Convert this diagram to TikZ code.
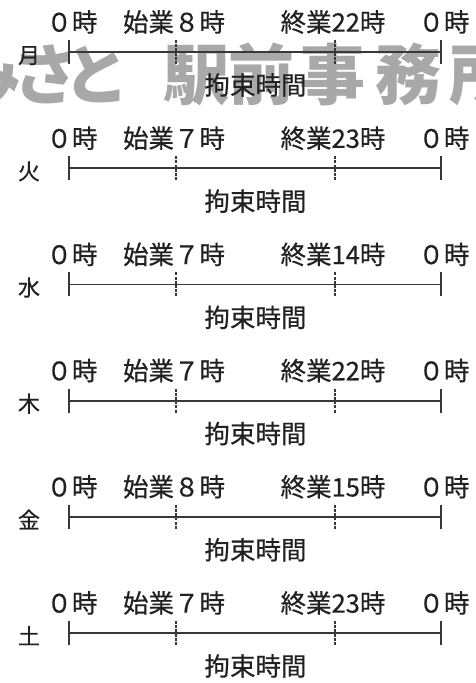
\documentclass[tikz,border=0pt]{standalone}
\usepackage{fontspec}
\setmainfont{Noto Sans CJK JP}
\newfontfamily\lbfont[FakeBold=0.5]{Noto Sans CJK JP}
\newfontfamily\wmfont[RawFeature=+palt]{Noto Sans CJK JP}
\definecolor{ink}{gray}{0.13}
\definecolor{rule}{gray}{0.22}
\definecolor{wmgray}{gray}{0.66}
\begin{document}
\begin{tikzpicture}[x=1pt,y=-1pt,
  lab/.style={inner sep=0pt, text=ink, font=\lbfont\fontsize{25.5}{25.5}\selectfont,
              text height=22.4pt, text depth=3.1pt},
  day/.style={inner sep=0pt, text=ink, font=\lbfont\fontsize{22}{22}\selectfont,
              text height=19.4pt, text depth=2.6pt},
  wm/.style={inner sep=0pt, text=wmgray, font=\wmfont\bfseries\fontsize{66}{66}\selectfont,
             text height=58.1pt, text depth=7.9pt},
  mainline/.style={draw=rule, line width=1.8pt},
  endtick/.style={draw=rule, line width=1.3pt},
  midtick/.style={draw=rule, line width=1.3pt, dash pattern=on 3pt off 1.2pt}]
\useasboundingbox (0,0) rectangle (475,683);
% watermark
\foreach \c/\x [count=\i] in {み/-12, さ/45, と/95, 駅/196, 前/261, 事/332, 務/408, 所/482}
  \node[wm] (w\i) at (\x,74) {\c};
% rows
\foreach \d/\s/\e [count=\i from 0] in {月/８/22, 火/７/23, 水/７/14, 木/７/22, 金/８/15, 土/７/23}{
  \pgfmathsetmacro{\yl}{22+116.2*\i}
  \pgfmathsetmacro{\yL}{\yl+30}
  \pgfmathsetmacro{\yk}{\yl+63}
  \coordinate (A\i) at (69,\yL);
  \coordinate (B\i) at (176,\yL);
  \coordinate (C\i) at (335,\yL);
  \coordinate (D\i) at (441,\yL);
  \draw[mainline] (A\i) -- (D\i);
  \draw[endtick] ([yshift=12pt]A\i) -- ([yshift=-12pt]A\i);
  \draw[midtick] ([yshift=12pt]B\i) -- ([yshift=-12pt]B\i);
  \draw[midtick] ([yshift=12pt]C\i) -- ([yshift=-12pt]C\i);
  \draw[endtick] ([yshift=12pt]D\i) -- ([yshift=-12pt]D\i);
  \node[day] (d\i) at (29,\yL+3) {\d};
  \node[lab] (a\i) at (72,\yl) {０時};
  \node[lab] (s\i) at (174,\yl) {始業\s 時};
  \node[lab] (e\i) at (333,\yl) {終業\e 時};
  \node[lab] (z\i) at (444,\yl) {０時};
  \node[lab] (k\i) at (255.5,\yk) {拘束時間};
}
\end{tikzpicture}
\end{document}
